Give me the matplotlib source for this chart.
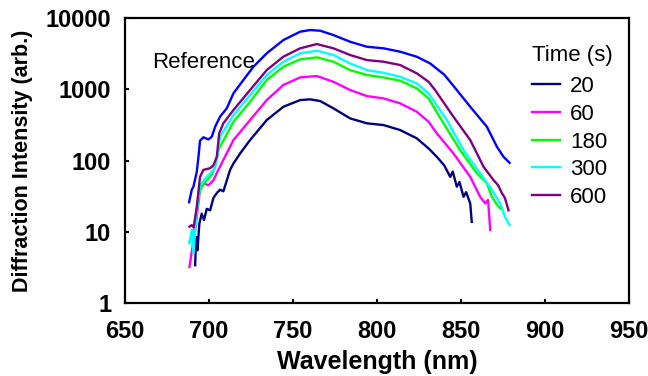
import numpy as np
import matplotlib
matplotlib.use('Agg')
import matplotlib.pyplot as plt

plt.rcParams['font.family'] = ['Liberation Sans', 'DejaVu Sans']

# reference spectrum (blue)
ref_x = [688.1, 689.7, 690.7, 692.7, 693.8, 694.6, 696.6, 699.6, 701.6, 703.6, 706.5,
         710.5, 714.5, 720.4, 726.4, 734.3, 744.2, 754.2, 760.1, 766.1, 774.0, 783.9,
         793.9, 803.8, 813.7, 823.6, 831.5, 840.0, 847.4, 855.4, 865.3, 871.3, 875.2, 878.8]
ref_y = [26, 39, 43, 70, 120, 190, 212, 198, 216, 298, 412,
         540, 877, 1350, 2075, 3200, 4910, 6430, 6790, 6640, 5770, 4650,
         3955, 3760, 3370, 2865, 2310, 1600, 977, 569, 298, 156, 113, 93]

# diffraction spectra at each time (s)
t20_x = [691.7, 692.3, 693.1, 694.2, 695.6, 697.0, 698.6, 700.6, 702.6, 704.6, 706.5,
         708.5, 712.5, 714.5, 718.5, 724.4, 734.3, 744.2, 754.2, 760.1, 766.1, 774.0,
         783.9, 793.9, 803.8, 813.7, 823.6, 830.6, 835.5, 840.0, 843.5, 845.0, 847.4,
         849.0, 851.4, 853.0, 855.4, 856.3]
t20_y = [3.4, 8.5, 5.5, 13, 18, 14.6, 21, 20, 30, 35, 39,
         37, 74, 91, 126, 194, 370, 569, 706, 723, 684, 540,
         391, 333, 315, 268, 205, 148, 113, 85, 59, 70, 43,
         50, 31, 36, 25, 13.8]

t60_x = [688.3, 691.7, 694.6, 696.6, 699.6, 702.6, 705.5, 708.5, 714.5, 724.4, 734.3,
         744.2, 754.2, 764.1, 774.0, 783.9, 793.9, 803.8, 813.7, 823.6, 830.6, 835.5,
         845.4, 855.4, 861.3, 864.3, 866.0, 867.3]
t60_y = [3.2, 10.6, 39, 48, 45, 53, 74, 102, 194, 370, 706,
         1150, 1470, 1535, 1275, 977, 803, 746, 635, 484, 351, 241,
         126, 59, 31, 25, 28, 10.6]

t180_x = [688.3, 690.7, 693.6, 695.6, 698.6, 701.6, 703.6, 705.5, 714.5, 724.4, 734.3,
          744.2, 754.2, 764.1, 774.0, 783.9, 793.9, 803.8, 813.7, 823.6, 830.6, 839.5,
          849.4, 859.4, 865.3, 868.3, 871.3, 873.5]
t180_y = [7.2, 9.5, 31, 43, 53, 63, 82, 140, 351, 668, 1350,
          2075, 2630, 2810, 2440, 1860, 1585, 1470, 1320, 1030, 746, 333,
          140, 66, 48, 31, 24, 21]

t300_x = [688.3, 689.7, 690.7, 692.3, 694.6, 698.6, 702.6, 704.6, 706.5, 714.5, 724.4,
          734.3, 744.2, 754.2, 764.1, 774.0, 783.9, 793.9, 803.8, 813.7, 823.6, 830.6,
          841.5, 851.4, 861.3, 868.3, 873.2, 876.2, 878.8]
t300_y = [6.9, 10.6, 5.0, 16, 45, 59, 74, 102, 216, 436, 830,
          1585, 2440, 3200, 3475, 3030, 2310, 1860, 1706, 1500, 1210, 877,
          370, 140, 66, 39, 25, 16, 12.4]

t600_x = [688.3, 689.7, 690.8, 692.7, 694.6, 696.6, 700.6, 702.6, 704.6, 706.0, 708.5,
          714.5, 724.4, 734.3, 744.2, 754.2, 764.1, 774.0, 783.9, 793.9, 803.8, 813.7,
          823.6, 830.6, 834.5, 845.4, 855.4, 863.3, 869.3, 872.0, 874.2, 876.0, 878.2]
t600_y = [11.8, 12.4, 11.5, 22.5, 59, 74, 78, 86, 113, 241, 333,
          512, 977, 1860, 2870, 3760, 4315, 3760, 3030, 2570, 2440, 2190,
          1675, 1275, 977, 412, 194, 82, 53, 45, 35, 30, 20]

labels = ['20', '60', '180', '300', '600']
colors = ['#000080', '#ff00ff', '#00ff00', '#00ffff', '#800080']
series = [(t20_x, t20_y), (t60_x, t60_y), (t180_x, t180_y),
          (t300_x, t300_y), (t600_x, t600_y)]

xticks = [650, 700, 750, 800, 850, 900, 950]
yticks = [1, 10, 100, 1000, 10000]
ytick_labels = ['1', '10', '100', '1000', '10000']

fig = plt.figure(figsize=(6.48, 3.76), dpi=100)
ax = fig.add_axes([0.193, 0.194, 0.778, 0.758])

ax.plot(ref_x, ref_y, color='#0000ff', lw=1.7)
for (x, y), lab, c in zip(series, labels, colors):
    ax.plot(x, y, color=c, lw=1.7, label=lab)

ax.set_yscale('log')
ax.set_xlim(650, 950)
ax.set_ylim(1, 10000)
ax.set_xticks(xticks)
ax.set_xticklabels([str(v) for v in xticks], fontweight='bold', fontsize=17)
ax.set_yticks(yticks)
ax.set_yticklabels(ytick_labels, fontweight='bold', fontsize=17)
ax.yaxis.set_minor_locator(matplotlib.ticker.NullLocator())
ax.tick_params(direction='in', length=3, width=1.5)
ax.tick_params(axis='x', pad=12)
ax.tick_params(axis='y', pad=10)
for s in ax.spines.values():
    s.set_linewidth(1.6)

ax.set_xlabel('Wavelength (nm)', fontweight='bold', fontsize=18, labelpad=5)
ax.set_ylabel('Diffraction Intensity (arb.)', fontweight='bold', fontsize=15.5, labelpad=9)

ax.text(666, 2400, 'Reference', fontsize=16, ha='left', va='center')

leg = ax.legend(title='Time (s)', loc='upper left', bbox_to_anchor=(0.79, 0.935),
                frameon=False, fontsize=16, title_fontsize=16, handlelength=1.25,
                handletextpad=0.45, labelspacing=0.3, borderaxespad=0)
leg._legend_box.align = 'left'
leg._legend_box.sep = 7

fig.savefig('out.png', dpi=100)
